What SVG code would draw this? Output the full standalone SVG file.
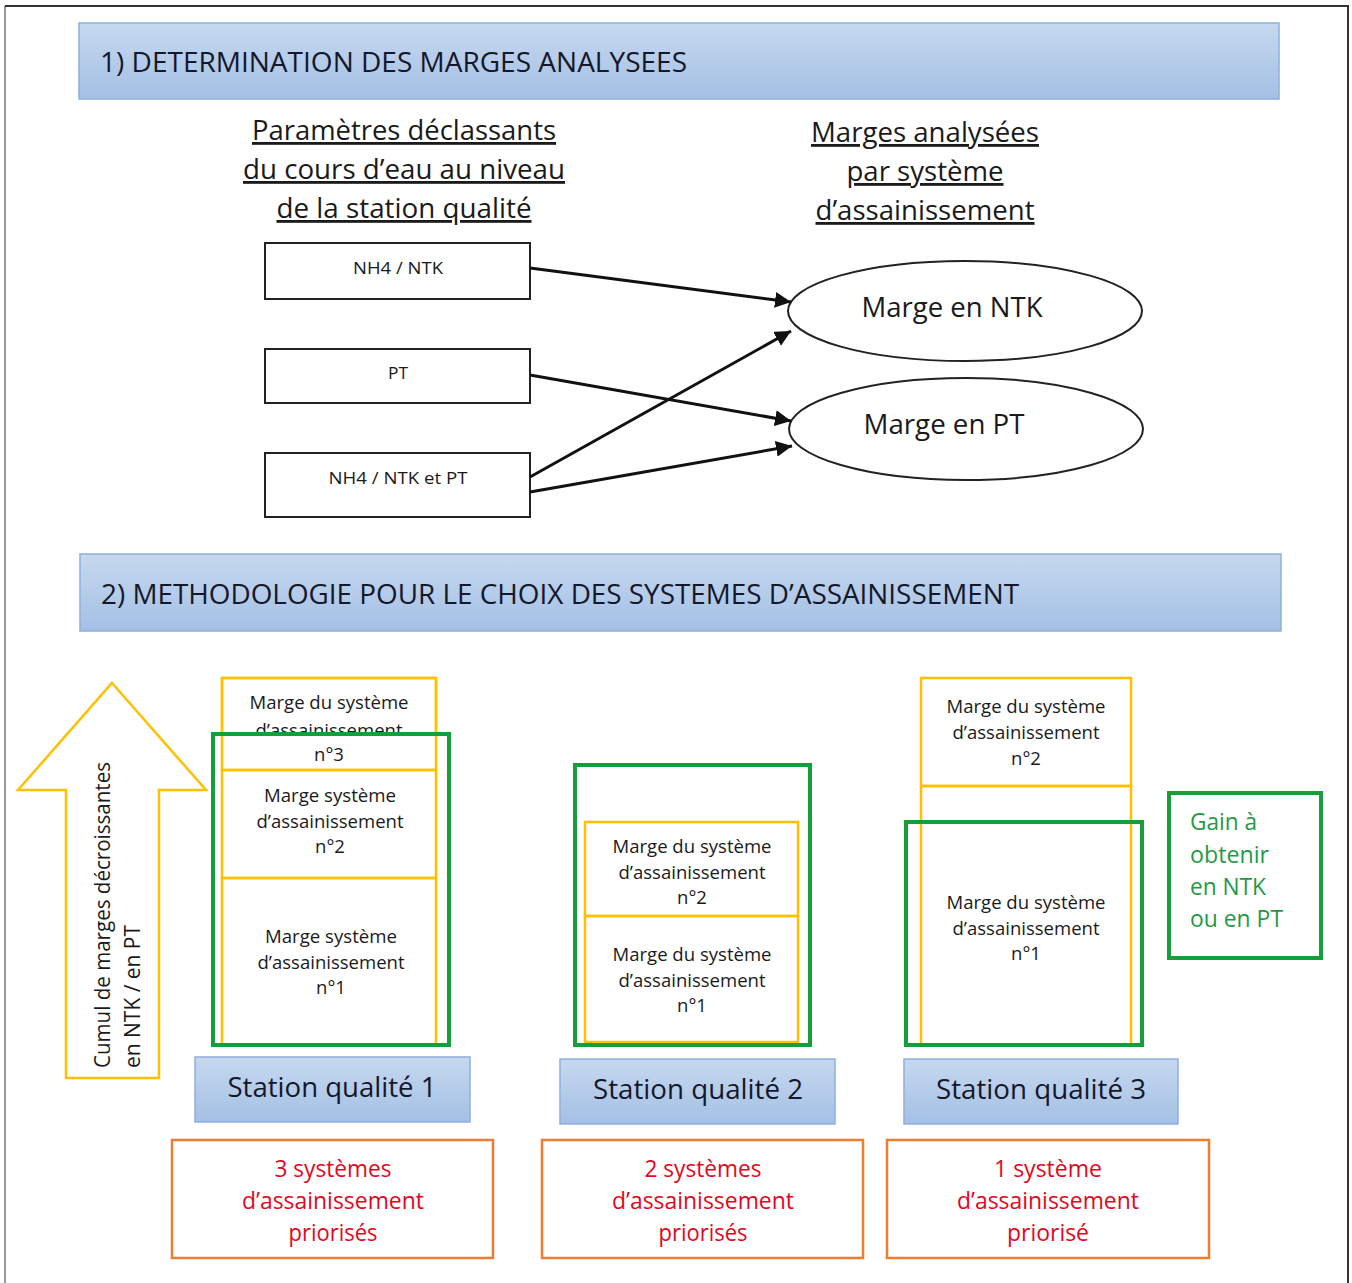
<svg xmlns="http://www.w3.org/2000/svg" width="1352" height="1283" viewBox="0 0 1352 1283">
<style>
text{font-family:"Open Sans","Liberation Sans",sans-serif;fill:#1a1a1a}
.hd{font-size:28px;fill:#15182a}
.sub{font-size:28px;text-decoration:underline;text-anchor:middle}
.sm{font-size:17px;text-anchor:middle}
.ell{font-size:28px;text-anchor:middle}
.bx{font-size:18.5px;text-anchor:middle}
.st{font-size:27px;text-anchor:middle;fill:#15182a}
.gn{font-size:23px;fill:#1f9a45}
.rd{font-size:23px;fill:#e4061e;text-anchor:middle}
.vt{font-size:22px}
.yel{fill:none;stroke:#ffc000;stroke-width:2.5}
.grn{fill:none;stroke:#13a03a;stroke-width:4}
.org{fill:#fff;stroke:#ed7d31;stroke-width:2.5}
.blk{fill:#fff;stroke:#222;stroke-width:2}
.con{stroke:#111;stroke-width:3;fill:none;marker-end:url(#ah)}
</style>
<defs>
<linearGradient id="bg" x1="0" y1="0" x2="0" y2="1">
<stop offset="0" stop-color="#c6d8ef"/>
<stop offset="1" stop-color="#a4c0e5"/>
</linearGradient>
<marker id="ah" markerUnits="userSpaceOnUse" markerWidth="18" markerHeight="16" refX="16" refY="8" orient="auto">
<path d="M0,0 L16,8 L0,16 Z" fill="#111"/>
</marker>
</defs>
<rect width="1352" height="1283" fill="#fff"/>
<path d="M5,1283 V6" stroke="#999" stroke-width="2" fill="none"/>
<path d="M5,6 H1348 V1283" stroke="#333" stroke-width="2" fill="none"/>

<g id="header1">
<rect x="79" y="23" width="1200" height="76" fill="url(#bg)" stroke="#8fb0dc" stroke-width="1.5"/>
<text class="hd" x="100" y="72" textLength="587" lengthAdjust="spacingAndGlyphs">1) DETERMINATION DES MARGES ANALYSEES</text>
</g>

<g id="title-params">
<text class="sub" x="404" y="140" textLength="304" lengthAdjust="spacingAndGlyphs">Paramètres déclassants</text>
<text class="sub" x="404" y="179" textLength="322" lengthAdjust="spacingAndGlyphs">du cours d’eau au niveau</text>
<text class="sub" x="404" y="218" textLength="255" lengthAdjust="spacingAndGlyphs">de la station qualité</text>
</g>
<g id="title-marges">
<text class="sub" x="925" y="142" textLength="228" lengthAdjust="spacingAndGlyphs">Marges analysées</text>
<text class="sub" x="925" y="181" textLength="157" lengthAdjust="spacingAndGlyphs">par système</text>
<text class="sub" x="925" y="220" textLength="219" lengthAdjust="spacingAndGlyphs">d’assainissement</text>
</g>

<g id="p-nh4">
<rect class="blk" x="265" y="243" width="265" height="56"/>
<text class="sm" x="398" y="274" textLength="90" lengthAdjust="spacingAndGlyphs">NH4 / NTK</text>
</g>
<g id="p-pt">
<rect class="blk" x="265" y="349" width="265" height="54"/>
<text class="sm" x="398" y="379" textLength="20" lengthAdjust="spacingAndGlyphs">PT</text>
</g>
<g id="p-both">
<rect class="blk" x="265" y="453" width="265" height="64"/>
<text class="sm" x="398" y="484" textLength="139" lengthAdjust="spacingAndGlyphs">NH4 / NTK et PT</text>
</g>
<g id="m-ntk">
<ellipse cx="965" cy="311" rx="177" ry="50" fill="#fff" stroke="#222" stroke-width="2"/>
<text class="ell" x="952" y="317" textLength="181" lengthAdjust="spacingAndGlyphs">Marge en NTK</text>
</g>
<g id="m-pt">
<ellipse cx="966" cy="429" rx="177" ry="51" fill="#fff" stroke="#222" stroke-width="2"/>
<text class="ell" x="944" y="434" textLength="161" lengthAdjust="spacingAndGlyphs">Marge en PT</text>
</g>

<g id="connectors">
<line class="con" x1="530" y1="268" x2="791" y2="302"/>
<line class="con" x1="530" y1="375" x2="791" y2="421"/>
<line class="con" x1="530" y1="477" x2="791" y2="331"/>
<line class="con" x1="530" y1="492" x2="792" y2="446"/>
</g>

<g id="header2">
<rect x="80" y="554" width="1201" height="77" fill="url(#bg)" stroke="#8fb0dc" stroke-width="1.5"/>
<text class="hd" x="101" y="604" textLength="918" lengthAdjust="spacingAndGlyphs">2) METHODOLOGIE POUR LE CHOIX DES SYSTEMES D’ASSAINISSEMENT</text>
</g>

<g id="cumul-arrow">
<path d="M112,683 L206,790 L159,790 L159,1078 L66,1078 L66,790 L18,790 Z" fill="#fff" stroke="#ffc000" stroke-width="2.5"/>
<text class="vt" transform="translate(110,1068) rotate(-90)" textLength="306" lengthAdjust="spacingAndGlyphs">Cumul de marges décroissantes</text>
<text class="vt" transform="translate(140,1068) rotate(-90)" textLength="143" lengthAdjust="spacingAndGlyphs">en NTK / en PT</text>
</g>

<g id="station1">
<rect x="222" y="678" width="214" height="92" fill="#fff" stroke="#ffc000" stroke-width="2.5"/>
<text class="bx" x="329" y="709" textLength="159" lengthAdjust="spacingAndGlyphs">Marge du système</text>
<text class="bx" x="329" y="737" textLength="147" lengthAdjust="spacingAndGlyphs">d’assainissement</text>
<rect x="213" y="734" width="236" height="311" fill="#fff"/>
<rect class="yel" x="222" y="678" width="214" height="92"/>
<rect class="yel" x="222" y="770" width="214" height="108"/>
<rect class="yel" x="222" y="878" width="214" height="167"/>
<text class="bx" x="329" y="761">n°3</text>
<text class="bx" x="330" y="802" textLength="132" lengthAdjust="spacingAndGlyphs">Marge système</text>
<text class="bx" x="330" y="828" textLength="147" lengthAdjust="spacingAndGlyphs">d’assainissement</text>
<text class="bx" x="330" y="853">n°2</text>
<text class="bx" x="331" y="943" textLength="132" lengthAdjust="spacingAndGlyphs">Marge système</text>
<text class="bx" x="331" y="969" textLength="147" lengthAdjust="spacingAndGlyphs">d’assainissement</text>
<text class="bx" x="331" y="994">n°1</text>
<rect class="grn" x="213" y="734" width="236" height="311"/>
</g>
<g id="sq1">
<rect x="195" y="1057" width="275" height="65" fill="url(#bg)" stroke="#8fb0dc" stroke-width="1.5"/>
<text class="st" x="332" y="1097" textLength="209" lengthAdjust="spacingAndGlyphs">Station qualité 1</text>
</g>

<g id="station2">
<rect class="yel" x="585" y="822" width="213" height="94"/>
<rect class="yel" x="585" y="916" width="213" height="126"/>
<text class="bx" x="692" y="853" textLength="159" lengthAdjust="spacingAndGlyphs">Marge du système</text>
<text class="bx" x="692" y="879" textLength="147" lengthAdjust="spacingAndGlyphs">d’assainissement</text>
<text class="bx" x="692" y="904">n°2</text>
<text class="bx" x="692" y="961" textLength="159" lengthAdjust="spacingAndGlyphs">Marge du système</text>
<text class="bx" x="692" y="987" textLength="147" lengthAdjust="spacingAndGlyphs">d’assainissement</text>
<text class="bx" x="692" y="1012">n°1</text>
<rect class="grn" x="575" y="765" width="235" height="280"/>
</g>
<g id="sq2">
<rect x="560" y="1059" width="275" height="65" fill="url(#bg)" stroke="#8fb0dc" stroke-width="1.5"/>
<text class="st" x="698" y="1099" textLength="210" lengthAdjust="spacingAndGlyphs">Station qualité 2</text>
</g>

<g id="station3">
<rect class="yel" x="921" y="678" width="210" height="108"/>
<rect class="yel" x="921" y="786" width="210" height="259"/>
<text class="bx" x="1026" y="713" textLength="159" lengthAdjust="spacingAndGlyphs">Marge du système</text>
<text class="bx" x="1026" y="739" textLength="147" lengthAdjust="spacingAndGlyphs">d’assainissement</text>
<text class="bx" x="1026" y="765">n°2</text>
<text class="bx" x="1026" y="909" textLength="159" lengthAdjust="spacingAndGlyphs">Marge du système</text>
<text class="bx" x="1026" y="935" textLength="147" lengthAdjust="spacingAndGlyphs">d’assainissement</text>
<text class="bx" x="1026" y="960">n°1</text>
<rect class="grn" x="906" y="822" width="236" height="223"/>
</g>
<g id="sq3">
<rect x="904" y="1059" width="274" height="65" fill="url(#bg)" stroke="#8fb0dc" stroke-width="1.5"/>
<text class="st" x="1041" y="1099" textLength="210" lengthAdjust="spacingAndGlyphs">Station qualité 3</text>
</g>

<g id="gain">
<rect class="grn" x="1169" y="793" width="152" height="165"/>
<text class="gn" x="1190" y="830" textLength="67" lengthAdjust="spacingAndGlyphs">Gain à</text>
<text class="gn" x="1190" y="863" textLength="79" lengthAdjust="spacingAndGlyphs">obtenir</text>
<text class="gn" x="1190" y="895" textLength="76" lengthAdjust="spacingAndGlyphs">en NTK</text>
<text class="gn" x="1190" y="927" textLength="93" lengthAdjust="spacingAndGlyphs">ou en PT</text>
</g>

<g id="res1">
<rect class="org" x="172" y="1140" width="321" height="118"/>
<text class="rd" x="333" y="1177" textLength="117" lengthAdjust="spacingAndGlyphs">3 systèmes</text>
<text class="rd" x="333" y="1209" textLength="182" lengthAdjust="spacingAndGlyphs">d’assainissement</text>
<text class="rd" x="333" y="1241" textLength="89" lengthAdjust="spacingAndGlyphs">priorisés</text>
</g>
<g id="res2">
<rect class="org" x="542" y="1140" width="321" height="118"/>
<text class="rd" x="703" y="1177" textLength="117" lengthAdjust="spacingAndGlyphs">2 systèmes</text>
<text class="rd" x="703" y="1209" textLength="182" lengthAdjust="spacingAndGlyphs">d’assainissement</text>
<text class="rd" x="703" y="1241" textLength="89" lengthAdjust="spacingAndGlyphs">priorisés</text>
</g>
<g id="res3">
<rect class="org" x="887" y="1140" width="322" height="118"/>
<text class="rd" x="1048" y="1177" textLength="108" lengthAdjust="spacingAndGlyphs">1 système</text>
<text class="rd" x="1048" y="1209" textLength="182" lengthAdjust="spacingAndGlyphs">d’assainissement</text>
<text class="rd" x="1048" y="1241" textLength="82" lengthAdjust="spacingAndGlyphs">priorisé</text>
</g>
</svg>
